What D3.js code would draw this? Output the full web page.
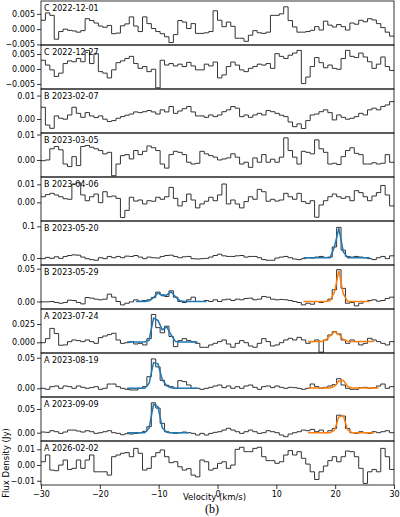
<!DOCTYPE html>
<html>
<head>
<meta charset="utf-8">
<script src="https://cdn.jsdelivr.net/npm/d3@7"></script>
<style>
  body { margin: 0; background: #fff; }
</style>
</head>
<body>
<script>
// channel grid in km/s (left edge of first channel, channel width)
const vStart = -30, dv = 0.75;

const labels = ['C 2022-12-01', 'C 2022-12-27', 'B 2023-02-07', 'B 2023-03-05', 'B 2023-04-06',
  'B 2023-05-20', 'B 2023-05-29', 'A 2023-07-24', 'A 2023-08-19', 'A 2023-09-09', 'A 2026-02-02'];

// spectra, mJy per channel (80 channels, -30..30 km/s)
const fluxC1201 = [2.9,5.3,4.5,-3.3,-0.8,0,-0.4,-0.6,-1.0,-0.5,
  3.4,2.8,2.0,1.0,0.6,1.2,-1.5,-1.3,1.1,1.7,
  4.0,1.0,-0.8,4.0,1.8,0.2,-0.8,-1.5,-2.5,-4.4,
  -1.8,2.8,2.3,0.2,1.8,-1.4,-1.4,-1.2,-0.8,6.0,
  2.9,0.8,2.3,0.9,-3.0,-3.0,-4.0,-2.0,-0.5,-1.2,
  -1.4,-1.0,4.5,4.5,5.0,7.3,2.8,0.7,-1.0,-1.0,
  -0.8,-0.4,0.8,-0.3,2.6,1.3,0.7,1.5,0.8,-0.3,
  2.0,1.6,2.9,2.4,3.4,3.0,1.8,0.5,-1.0,-2.3];
const fluxC1227 = [2.9,1.3,-0.3,-2.5,-1.4,1.8,2.7,2.4,3.5,2.4,
  6.2,1.8,5.1,-0.9,-1.4,-3.0,-0.3,2.1,2.7,3.5,
  4.2,1.8,0.2,0.8,-0.9,-0.1,-6.3,2.9,1.3,1.8,
  1.0,1.6,0.8,2.2,1.0,-0.3,-0.3,1.6,1.0,2.3,
  -3.0,-2.0,0.8,2.3,1.3,-0.3,-0.9,0.2,0.8,1.6,
  1.3,1.8,0.2,5.1,4.2,3.5,4.6,5.3,6.2,-4.9,
  -2.7,0.8,3.8,2.1,0.4,1.3,0.2,-0.1,3.5,6.2,
  4.2,3.8,5.3,4.0,2.4,0.2,1.6,4.0,0.8,-0.5];
const fluxB0207 = [5.0,-2.6,-4.0,1.3,0.3,-0.1,1.7,5.0,2.4,0.7,
  2.7,1.3,0.6,1.3,-0.1,-1.1,-0.7,0.3,1.0,1.6,
  2.1,3.0,2.7,3.1,3.6,3.0,2.1,3.9,3.0,5.3,
  2.4,3.4,4.4,5.3,3.0,1.3,1.3,0.7,1.7,1.0,
  1.7,3.1,3.9,5.3,4.6,1.0,1.7,0.7,1.7,2.4,
  1.7,3.6,3.1,2.4,1.6,1.0,-1.3,-3.3,-2.1,-4.1,
  -0.7,1.7,2.1,3.1,3.9,2.7,-0.4,1.7,0.7,-0.1,
  0.3,1.0,2.4,1.7,3.9,4.6,3.9,5.3,6.0,7.4];
const fluxB0305 = [-0.3,0,4.4,5.3,4.0,-1.6,-2.6,1.3,-2.2,5.3,
  5.7,5.0,4.4,3.7,2.4,3.0,-6.2,-1.6,1.7,2.1,
  0.4,3.7,2.1,3.4,5.5,4.8,3.7,-1.6,-3.2,2.1,
  3.4,3.0,2.1,-0.9,-1.6,-1.3,3.4,2.4,1.7,1.1,
  0,0.4,0.8,2.4,1.1,-1.6,-0.9,-2.9,0.8,-0.9,
  2.1,-0.9,0.3,-0.9,1.1,8.7,3.7,1.1,-1.6,3.4,
  3.0,2.4,7.9,4.4,3.0,-1.6,-1.3,-1.8,1.3,3.7,
  4.8,2.6,2.1,-1.6,-1.6,-1.1,-1.6,-1.3,2.1,-0.9];
const fluxB0406 = [3.1,4.3,5.0,4.1,3.1,2.0,1.7,10.2,10.9,4.1,
  0.9,3.1,4.6,-0.2,5.9,3.1,3.5,2.2,-8.5,-4.5,
  2.8,0.7,1.3,-0.9,0.9,0.6,2.8,1.7,3.1,8.3,
  2.2,-2.0,0.4,4.6,1.3,-3.1,-0.9,0.6,2.8,0.9,
  4.1,10.2,-0.9,1.3,-0.9,-3.1,0.4,3.1,1.7,7.2,
  5.9,0.6,1.7,0.7,1.3,5.0,3.1,1.7,5.0,0.4,
  -0.6,0.9,-8.3,-1.5,0.9,3.1,4.6,3.1,2.2,3.1,
  0.9,6.5,5.4,3.1,0.9,3.5,5.4,9.4,4.1,-2.0];
const fluxB0520 = [-2,2,-1,4,-1,5,8,10,9,3,
  -2,-5,-7,1,-2,5,1,5,1,6,
  5,8,3,-2,3,1,0,5,8,9,
  5,1,4,5,-2,-3,-2,-1,3,8,
  12,7,5,5,7,8,3,5,5,1,
  -5,-7,-7,0,3,5,1,-3,-5,-2,
  1,0,3,5,2,3,35,97,25,5,
  3,5,3,1,-2,-5,1,5,-2,7];
const fluxB0529 = [-0.5,-0.5,0,-1.5,-2.6,-1.5,2.0,1.5,-1.5,-3.6,
  6.1,5.1,3.6,2.6,3.6,11.2,6.6,0,-5.1,-2.6,
  -0.5,2.6,0.5,1.5,2.6,6.1,14.3,10.2,7.7,16.3,
  6.6,0,-1.5,2.6,6.6,0,0,1.5,0,2.6,
  0,2.6,3.6,1.5,3.6,2.6,4.6,5.1,2.6,3.6,
  7.7,6.6,3.6,2.6,3.1,2.6,1.5,0,-1.5,-5.1,
  -2.6,-4.1,0,-1.5,0,3.6,18,48.5,20,-2.6,
  -1.5,-6.6,-2.6,0,1.5,2.6,0.5,1.5,4.6,6.6];
const fluxA0724 = [-0.5,5,19,12,-4,-3.6,0.9,3.2,2.3,0.9,
  3.2,0.9,-1.4,6.4,8.6,10.5,12.3,3.2,-1.4,-0.5,
  0.9,-2.3,-1.4,-3.6,5,38,20,13,22,8,
  -5.9,2.3,5,2.3,0.9,-1.4,-6.8,-6.8,-3.6,-1.4,
  0.9,3.2,-2.3,-6.8,-1.4,2.3,-0.5,-5,-6.8,-1.4,
  5,0.9,-5,-3.6,-0.5,3.2,5.5,3.2,6.8,3.2,
  -1.4,0.9,3.2,-13.5,3.2,10,14.5,11.4,3.2,-1.4,
  3.2,0.9,-3.6,-1.4,5.5,3.2,0.9,-1.4,-3.6,0.9];
const fluxA0819 = [0,-1.6,2.7,3.8,0,3.8,2.7,0,3.8,1.6,
  0,1.1,2.7,-1.6,0,7,7,2.7,0,-1.6,
  -2.7,-2.7,0,2.7,19,48,35,13,5,2.7,
  0,12.5,10.9,5.4,0,0,-1.6,0,1.6,3.8,
  5.4,1.1,3.8,0,2.7,0,3.8,5.4,1.6,-1.6,
  2.7,3.8,1.1,3.8,1.6,0,1.6,1.1,0,-1.6,
  0,7,2.7,0,1.6,3.8,6,15.7,5.4,0,
  -1.6,-1.6,1.1,1.6,0,1.1,3.8,7,0,2.7];
const fluxA0909 = [1.4,0.7,4.2,2.1,-1.4,1.4,5.6,5.6,3.5,1.4,
  4.2,2.1,-1.4,0,2.1,4.2,0,-1.4,-4.2,-2.1,
  -2.8,-1.4,0,2.8,12.7,63,52,19.7,2.1,0,
  -1.4,0,1.4,0,-1.4,-4.9,-1.4,-4.9,-1.4,0.7,
  2.1,5.6,9.2,5.6,2.1,-1.4,2.1,5.6,2.1,-1.4,
  0,4.2,2.1,0,-4.9,-8.4,-2.8,0,2.1,5.6,
  4.2,7,2.1,5.6,0,4.2,9,37,35,9,
  0,-1.4,2.1,0,-1.4,2.1,0,2.1,4.2,0];
const fluxA0202 = [2.1,6.4,-3.2,-3.6,0,3.2,-2.8,-2.1,3.2,-2.1,
  3.2,6.4,-4.3,-4.3,-4.3,-6.4,5.3,6.4,7.5,7.9,
  5.3,10.6,7.5,-3.2,-2.1,5.3,7.9,9.6,5.3,1.5,
  2.1,-1.1,-3.2,-2.3,-6.4,-7.5,3.2,2.1,-3.2,-2.1,
  1.1,2.1,-2.1,0,10,11.3,8.5,8.5,10.6,11.3,
  5.3,2.8,2.8,1.1,2.1,6.4,9.2,6.4,8.5,4.3,
  0.6,-4.3,-9.2,-4.3,-0.6,2.8,5.3,2.1,5.3,8.9,
  8.5,5.3,-2.1,-11.7,-4.3,-2.8,-4.3,10.6,5.3,-2.8];

// fitted profiles, mJy at channel centres, starting at channel index
const fitB0520Blue = { start: 59, mJy: [1,1,1,1,1,1,1,35,94,20,1,1,1,1,1,1] };
const fitB0529Blue = { start: 21, mJy: [0,0,0,1,6,13,9,10,15,7,1,0,0,0,0,0,0] };
const fitB0529Orange = { start: 59, mJy: [0,0,0,0,0,0,1,14,47,12,0,0,0,0,0,0] };
const fitA0724Blue = { start: 19, mJy: [0.5,0.5,0.5,0.5,0.5,3,33,30,17,21,10,1,0.5,0.5,0.5,0.5,0.5] };
const fitA0724Orange = { start: 60, mJy: [1,1,1,1,3,9,14.5,11,4,1.5,1,1,1,1,1,1] };
const fitA0819Blue = { start: 19, mJy: [0,0,0,0,0,8,42,40,14,4,1,0,0,0,0,0,0] };
const fitA0819Orange = { start: 60, mJy: [0.5,0.5,0.5,0.5,0.5,0.5,3,12,13,3,0.5,0.5,0.5,0.5,0.5,0.5,0.5] };
const fitA0909Blue = { start: 19, mJy: [0,0,0,0,0,10,60,55,10,1,0,0,0,0,0] };
const fitA0909Orange = { start: 60, mJy: [0,0,0,0,0,0,5,33,36,6,0,0,0,0,0,0] };

const spectra = [fluxC1201, fluxC1227, fluxB0207, fluxB0305, fluxB0406,
  fluxB0520, fluxB0529, fluxA0724, fluxA0819, fluxA0909, fluxA0202];
const blueFits = [null, null, null, null, null, fitB0520Blue, fitB0529Blue, fitA0724Blue, fitA0819Blue, fitA0909Blue, null];
const orangeFits = [null, null, null, null, null, null, fitB0529Orange, fitA0724Orange, fitA0819Orange, fitA0909Orange, null];

// y limits (Jy), tick values and formats per panel
const yLims = [[-0.0052, 0.0092], [-0.0067, 0.0080], [-0.0060, 0.0128], [-0.0067, 0.0106], [-0.0104, 0.0141],
  [-0.022, 0.117], [-0.0114, 0.0556], [-0.0146, 0.0455], [-0.0142, 0.0577], [-0.0175, 0.0753], [-0.0127, 0.0153]];
const yTicks = [[-0.005, 0, 0.005], [-0.005, 0, 0.005], [0, 0.01], [0, 0.01], [0, 0.01],
  [0, 0.1], [0, 0.05], [0, 0.025], [0, 0.05], [0, 0.05], [-0.01, 0, 0.01]];
const yFormats = ['.3f', '.3f', '.2f', '.2f', '.2f', '.1f', '.2f', '.3f', '.2f', '.2f', '.2f'];
const xTicks = [-30, -20, -10, 0, 10, 20, 30];

const width = 400, height = 517;
const margin = { top: 1, left: 41, right: 6 };
const panelH = 44;
const font = 'DejaVu Sans';

const svg = d3.select('body').append('svg')
  .attr('width', width)
  .attr('height', height);

const x = d3.scaleLinear()
  .domain([-30, 30])
  .range([margin.left, width - margin.right]);

spectra.forEach((flux, p) => {
  const top = margin.top + p * panelH;
  const g = svg.append('g').attr('transform', 'translate(0,' + top + ')');

  const y = d3.scaleLinear().domain(yLims[p]).range([panelH, 0]);

  g.append('clipPath').attr('id', 'clip' + p)
    .append('rect')
    .attr('x', x(-30)).attr('y', 0)
    .attr('width', x(30) - x(-30)).attr('height', panelH);

  // step spectrum: each channel drawn as a flat segment
  const steps = flux.map((f, i) => [vStart + dv * i, f / 1000]);
  steps.push([vStart + dv * flux.length, flux[flux.length - 1] / 1000]);
  g.append('path')
    .datum(steps)
    .attr('clip-path', 'url(#clip' + p + ')')
    .attr('fill', 'none')
    .attr('stroke', '#333')
    .attr('stroke-width', 1)
    .attr('d', d3.line()
      .curve(d3.curveStepAfter)
      .x(d => x(d[0]))
      .y(d => y(d[1])));

  const fitLine = d3.line()
    .x(d => x(d[0]))
    .y(d => y(d[1]));
  [[blueFits[p], '#1f77b4'], [orangeFits[p], '#ff7f0e']].forEach(([fit, colour]) => {
    if (!fit) return;
    const pts = fit.mJy.map((f, k) => [vStart + dv * (fit.start + k + 0.5), f / 1000]);
    g.append('path')
      .datum(pts)
      .attr('clip-path', 'url(#clip' + p + ')')
      .attr('fill', 'none')
      .attr('stroke', colour)
      .attr('stroke-width', 1.5)
      .attr('d', fitLine);
  });

  // y axis
  const yAxis = g.append('g')
    .attr('transform', 'translate(' + x(-30) + ',0)')
    .call(d3.axisLeft(y)
      .tickValues(yTicks[p])
      .tickFormat(d3.format(yFormats[p]))
      .tickSize(4)
      .tickPadding(2));
  yAxis.select('.domain').remove();
  yAxis.selectAll('text').attr('font-family', font).attr('font-size', 8).attr('fill', '#000');
  yAxis.selectAll('line').attr('stroke', '#000').attr('stroke-width', 0.8);

  // frame
  g.append('rect')
    .attr('x', x(-30)).attr('y', 0)
    .attr('width', x(30) - x(-30)).attr('height', panelH)
    .attr('fill', 'none')
    .attr('stroke', '#000')
    .attr('stroke-width', 0.8);

  g.append('text')
    .attr('x', x(-30) + 3)
    .attr('y', 10)
    .attr('font-family', font)
    .attr('font-size', 8)
    .attr('fill', '#000')
    .text(labels[p]);

  if (p === spectra.length - 1) {
    const xAxis = g.append('g')
      .attr('transform', 'translate(0,' + panelH + ')')
      .call(d3.axisBottom(x)
        .tickValues(xTicks)
        .tickFormat(d3.format('d'))
        .tickSize(4)
        .tickPadding(2));
    xAxis.select('.domain').remove();
    xAxis.selectAll('text').attr('font-family', font).attr('font-size', 8).attr('fill', '#000');
    xAxis.selectAll('line').attr('stroke', '#000').attr('stroke-width', 0.8);
  }
});

const lastMid = margin.top + (spectra.length - 0.5) * panelH;

svg.append('text')
  .attr('x', (x(-30) + x(30)) / 2 - 3)
  .attr('y', 500)
  .attr('text-anchor', 'middle')
  .attr('font-family', font)
  .attr('font-size', 8.5)
  .attr('fill', '#000')
  .text('Velocity (km/s)');

svg.append('text')
  .attr('transform', 'translate(9,' + lastMid + ') rotate(-90)')
  .attr('text-anchor', 'middle')
  .attr('font-family', font)
  .attr('font-size', 8.5)
  .attr('fill', '#000')
  .text('Flux Density (Jy)');

svg.append('text')
  .attr('x', 212)
  .attr('y', 513)
  .attr('text-anchor', 'middle')
  .attr('font-family', 'Liberation Serif')
  .attr('font-size', 12)
  .attr('fill', '#000')
  .text('(b)');
</script>
</body>
</html>
